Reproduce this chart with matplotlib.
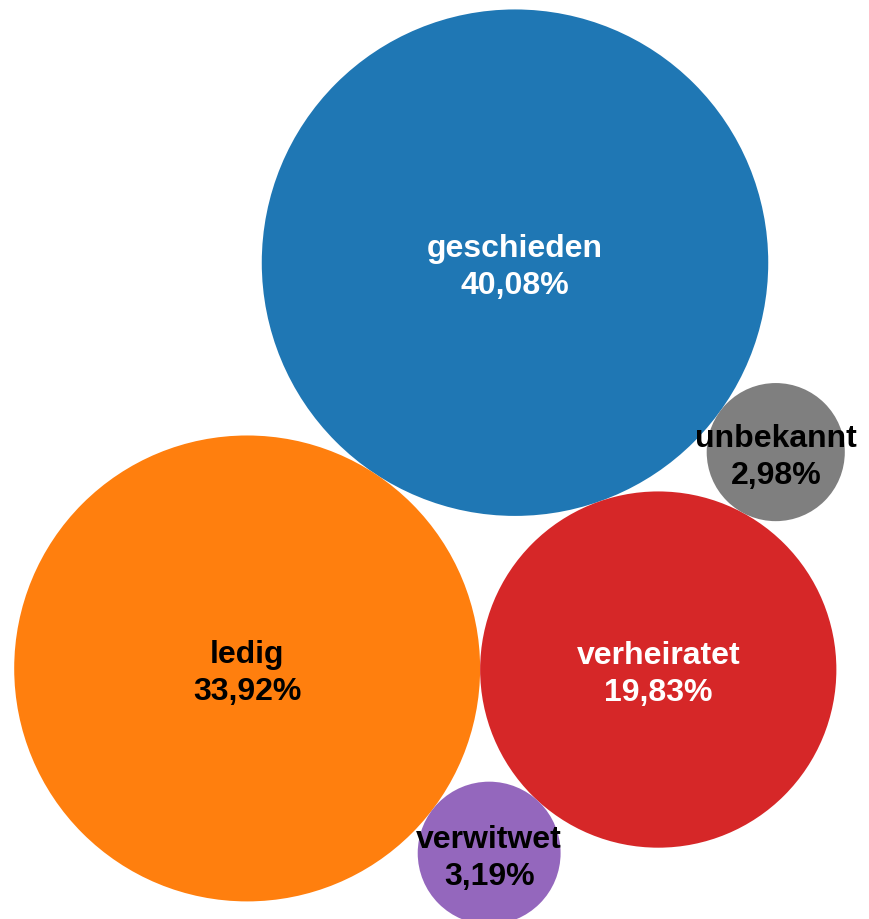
import matplotlib
matplotlib.use("Agg")
import matplotlib.pyplot as plt
from matplotlib.patches import Circle
import numpy as np

# data
labels = ["geschieden", "ledig", "verheiratet", "unbekannt", "verwitwet"]
shares = [40.08, 33.92, 19.83, 2.98, 3.19]
colors = ["#1f77b4", "#ff7f0e", "#d62728", "#7f7f7f", "#9467bd"]
text_colors = ["white", "black", "white", "black", "black"]


def touch_two(c1, r1, c2, r2, r, side):
	# centre of a circle of radius r touching two circles
	d1, d2 = r1 + r, r2 + r
	v = c2 - c1
	d = np.hypot(*v)
	u = v / d
	a = (d1 ** 2 - d2 ** 2 + d ** 2) / (2 * d)
	h = np.sqrt(max(d1 ** 2 - a ** 2, 0))
	perp = np.array([-u[1], u[0]])
	return c1 + a * u + side * h * perp


def pack(radii):
	# screen coords, y down
	centres = [np.array([0.0, 0.0])]
	ang = np.arctan2(406, -268)
	centres.append(centres[0] + (radii[0] + radii[1]) * np.array([np.cos(ang), np.sin(ang)]))
	# (index a, index b, side) for the remaining circles
	steps = [(0, 1, -1), (0, 2, -1), (1, 2, 1)]
	for i, (a, b, side) in enumerate(steps, start=2):
		centres.append(touch_two(centres[a], radii[a], centres[b], radii[b], radii[i], side))
	return np.array(centres)


W, H = 869, 920
radii = 40.0 * np.sqrt(np.array(shares))
centres = pack(radii)
lo = (centres - radii[:, None]).min(axis=0)
hi = (centres + radii[:, None]).max(axis=0)
centres += np.array([W / 2 - 5, H / 2 + 8]) - (lo + hi) / 2

fig = plt.figure(figsize=(W / 100, H / 100), dpi=100)
ax = fig.add_axes([0, 0, 1, 1])
ax.set_xlim(0, W)
ax.set_ylim(H, 0)
ax.set_aspect("equal")
ax.axis("off")

for lab, val, col, tc, (cx, cy), r in zip(labels, shares, colors, text_colors, centres, radii):
	ax.add_patch(Circle((cx, cy), r, facecolor=col, edgecolor="none"))
	txt = "%s\n%s%%" % (lab, ("%.2f" % val).replace(".", ","))
	ax.text(cx, cy + 4, txt, ha="center", va="center", color=tc,
		fontsize=23, fontweight="bold", family="Liberation Sans", linespacing=1.3)

plt.savefig("out.png", dpi=100)
plt.close()
